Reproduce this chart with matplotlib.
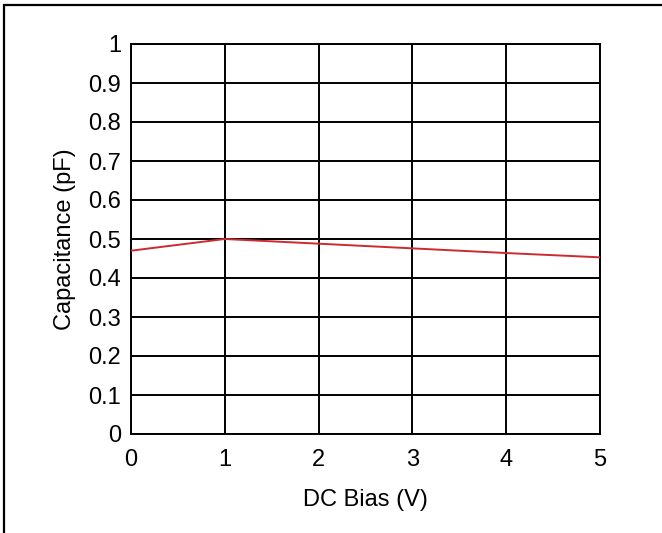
import matplotlib
matplotlib.use("Agg")
import matplotlib.pyplot as plt
from matplotlib.patches import Rectangle

plt.rcParams['font.family'] = ['Liberation Sans', 'DejaVu Sans']

bias_v = [0, 1, 2, 3, 4, 5]
capacitance_pf = [0.47, 0.50, 0.488, 0.476, 0.464, 0.453]
x_ticks = [0, 1, 2, 3, 4, 5]
y_ticks = [0, 0.1, 0.2, 0.3, 0.4, 0.5, 0.6, 0.7, 0.8, 0.9, 1]
y_tick_labels = ['0', '0.1', '0.2', '0.3', '0.4', '0.5', '0.6', '0.7', '0.8', '0.9', '1']

W, H = 662, 533
fig = plt.figure(figsize=(W / 100, H / 100), dpi=100)
fig.patch.set_facecolor('white')

left, right, top, bottom = 131, 600, 44, 434
ax = fig.add_axes([left / W, 1 - bottom / H, (right - left) / W, (bottom - top) / H])

FS = 17
ax.plot(bias_v, capacitance_pf, color='#cc2a30', lw=1.4, zorder=3)
ax.set_xlim(0, 5)
ax.set_ylim(0, 1)
ax.set_xticks(x_ticks)
ax.set_yticks(y_ticks)
ax.set_yticklabels(y_tick_labels)
ax.grid(True, color='black', lw=1.4)
ax.set_axisbelow(True)
for s in ax.spines.values():
    s.set_linewidth(1.4)
    s.set_color('black')
ax.tick_params(length=0, labelsize=FS, pad=7)
ax.tick_params(axis='x', pad=10.5)
ax.set_xlabel('DC Bias (V)', fontsize=FS, labelpad=13)
ax.set_ylabel('Capacitance (pF)', fontsize=FS, labelpad=9)

fig.patches.append(Rectangle((3.5 / W, -0.1), 1.2, 1 - 5.5 / H + 0.1, transform=fig.transFigure,
                             fill=False, edgecolor='black', lw=1.6, figure=fig))

fig.savefig('out.png', dpi=100)
